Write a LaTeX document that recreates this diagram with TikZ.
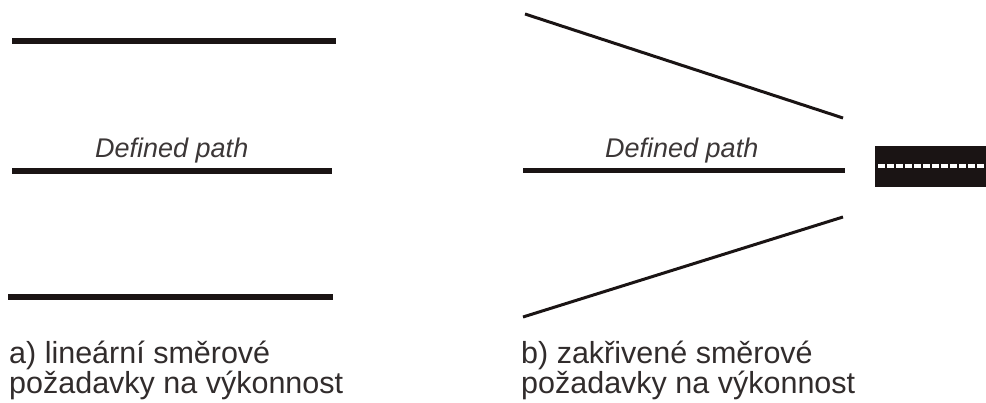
\documentclass[tikz,border=0pt]{standalone}
\usepackage{fontspec}
\setmainfont{Liberation Sans}
\definecolor{ink}{HTML}{1A1414}
\begin{document}
\begin{tikzpicture}[x=1pt,y=-1pt,
  thick line/.style={draw=ink,line width=5.5pt},
  slant line/.style={draw=ink,line width=3pt},
  pathlabel/.style={anchor=base west,inner sep=0pt,font=\fontsize{27}{30}\selectfont\itshape,text=ink!85},
  caption/.style={anchor=base west,inner sep=0pt,font=\fontsize{30.5}{30}\selectfont,text=ink!90}]
\useasboundingbox (0,0) rectangle (986,403);
% left panel
\coordinate (lt1) at (12,41);  \coordinate (lt2) at (336,41);
\coordinate (lm1) at (12,171); \coordinate (lm2) at (332,171);
\coordinate (lb1) at (8,297);  \coordinate (lb2) at (333,297);
\draw[thick line] (lt1) -- (lt2);
\draw[thick line] (lm1) -- (lm2);
\draw[thick line] (lb1) -- (lb2);
\node[pathlabel] (pl) at (95,158) {Defined path};
% right panel
\coordinate (ru1) at (525,14);  \coordinate (ru2) at (843,118);
\coordinate (rd1) at (523,317); \coordinate (rd2) at (843,217);
\coordinate (rm1) at (523,170.5); \coordinate (rm2) at (845,170.5);
\draw[slant line] (ru1) -- (ru2);
\draw[slant line] (rd1) -- (rd2);
\draw[thick line] (rm1) -- (rm2);
\node[pathlabel] (pr) at (605,158) {Defined path};
% road box
\fill[ink] (875,146) rectangle (986,187);
\draw[white,line width=4pt,dash pattern=on 7pt off 2pt] (878,166) -- (986,166);
% captions
\node[caption] (a1) at (9,364) {a) lineární směrové};
\node[caption] (a2) at (9,394) {požadavky na výkonnost};
\node[caption] (b1) at (521,364) {b) zakřivené směrové};
\node[caption] (b2) at (521,394) {požadavky na výkonnost};
\end{tikzpicture}
\end{document}
